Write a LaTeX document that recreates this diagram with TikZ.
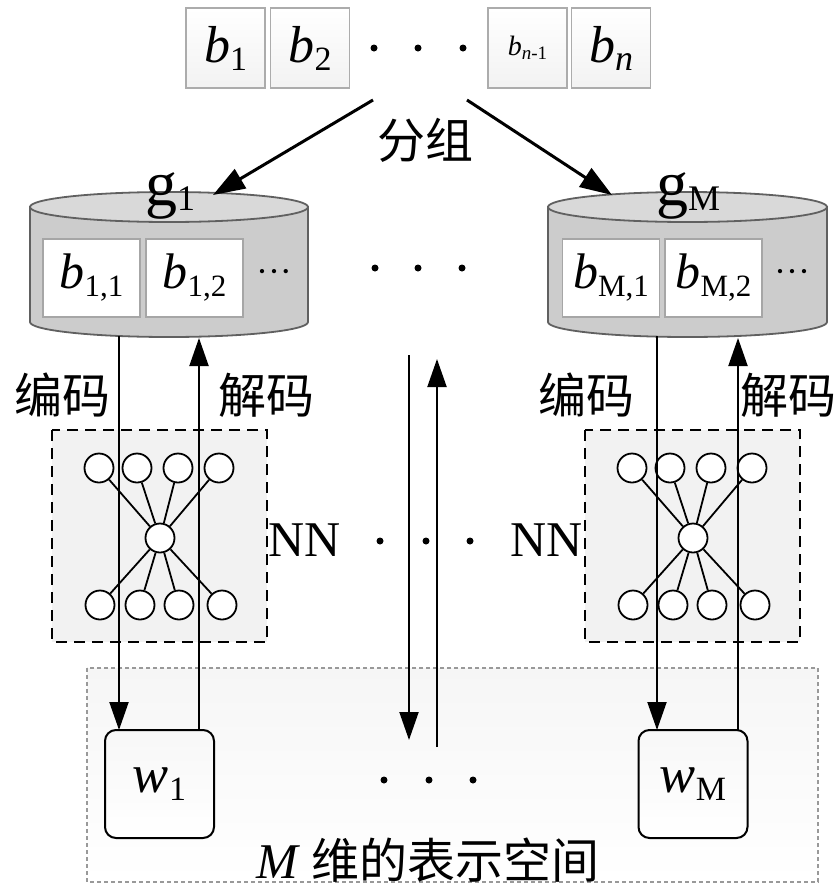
\documentclass[tikz,border=0pt]{standalone}
\usepackage{fontspec}
\setmainfont{Liberation Serif}
\newfontfamily\cjk{Noto Sans CJK SC}
\usetikzlibrary{arrows.meta}
\newcommand\fs[1]{\fontsize{#1}{#1}\selectfont}
% italic symbol with an upright index: {size}{symbol}{index size}{index}{drop}
\newcommand\idx[5]{{\fs{#1}\itshape #2\/}\raisebox{-#5pt}{\fs{#3}#4}}
\begin{document}
\begin{tikzpicture}[x=1pt,y=1pt,
  blk/.style={draw=gray!65,line width=1.6pt,top color=white,bottom color=gray!10,
    minimum width=79pt,minimum height=80pt,inner sep=0pt},
  inblk/.style={draw=gray!70,line width=1.6pt,fill=white,
    minimum width=97pt,minimum height=78pt,inner sep=0pt},
  cylbody/.style={draw=gray!75!black,line width=1.8pt,fill=gray!40},
  cyltop/.style={draw=gray!75!black,line width=1.8pt,fill=gray!30},
  nnbox/.style={draw=black,line width=1.8pt,dash pattern=on 11pt off 7pt,fill=gray!10},
  neuron/.style={circle,draw=black,line width=1.8pt,fill=white,minimum size=29pt,inner sep=0pt},
  wbox/.style={draw=black,line width=2pt,rounded corners=11pt,top color=gray!6,bottom color=white,
    minimum width=109pt,minimum height=108pt,inner sep=0pt},
  space/.style={draw=gray!80,line width=1.6pt,dash pattern=on 4pt off 3pt,top color=gray!7,bottom color=white},
  dot/.style={circle,fill=black,minimum size=7pt,inner sep=0pt},
  arr/.style={line width=2pt,-{Triangle[length=28pt,width=19pt]}},
  bigarr/.style={line width=3pt,-{Triangle[length=32pt,width=22pt]}},
  zh/.style={font=\cjk\fs{48}},
  lbl/.style={inner sep=0pt}
]
\useasboundingbox (0,0) rectangle (840,-892);

% ---------- input blocks ----------
\node[blk] (b1) at (225.5,-48) {\idx{52}{b}{34}{1}{8}};
\node[blk] (b2) at (310,-48) {\idx{52}{b}{34}{2}{8}};
\node[dot] (td1) at (374,-48) {};
\node[dot] (td2) at (418,-48) {};
\node[dot] (td3) at (463,-48) {};
\node[blk] (bn1) at (527.5,-48) {\idx{28}{b}{19}{\textit{n}-1}{4}};
\node[blk] (bn) at (611,-48) {{\fs{52}\itshape b\/}\raisebox{-8pt}{\fs{36}\itshape n}};

\coordinate (gl) at (373,-100);
\coordinate (gr) at (467,-100);
\node[zh,lbl] (group) at (425,-140) {分组};

% ---------- group cylinders ----------
\draw[cylbody] (30,-207) -- (30,-322) arc[start angle=180,end angle=360,x radius=139,y radius=15] -- (308,-207) -- cycle;
\draw[cyltop] (169,-207) ellipse[x radius=139,y radius=15];
\draw[cylbody] (548,-207) -- (548,-322) arc[start angle=180,end angle=360,x radius=139.5,y radius=15] -- (827,-207) -- cycle;
\draw[cyltop] (687.5,-207) ellipse[x radius=139.5,y radius=15];

\coordinate (g1in) at (213,-195);
\coordinate (gMin) at (612,-195);
\node[lbl,anchor=base] (g1) at (170,-205) {{\fs{64}g}\raisebox{-5pt}{\fs{36}1}};
\node[lbl,anchor=base] (gM) at (688,-205) {{\fs{64}g}\raisebox{-5pt}{\fs{36}M}};

\draw[bigarr] (gl) -- (g1in);
\draw[bigarr] (gr) -- (gMin);

\node[inblk] (b11) at (91.5,-278) {\idx{50}{b}{31}{1,1}{8}};
\node[inblk] (b12) at (194.5,-278) {\idx{50}{b}{31}{1,2}{8}};
\node[lbl] (e1) at (274,-276) {\fs{36}···};
\node[inblk] (bM1) at (611,-278) {\idx{50}{b}{31}{M,1}{8}};
\node[inblk] (bM2) at (713.5,-278) {\idx{50}{b}{31}{M,2}{8}};
\node[lbl] (e2) at (792,-276) {\fs{36}···};

\node[dot] (md1) at (375,-268) {};
\node[dot] (md2) at (418,-268) {};
\node[dot] (md3) at (462,-268) {};

% ---------- representation space ----------
\draw[space] (87,-668) rectangle (818,-882);
\node[wbox] (w1) at (159.5,-784) {\idx{54}{w}{34}{1}{8}};
\node[wbox] (wM) at (693,-784) {\idx{54}{w}{34}{M}{8}};
\node[dot] (bd1) at (384,-780) {};
\node[dot] (bd2) at (429,-780) {};
\node[dot] (bd3) at (473,-780) {};
\node[lbl] (spacelbl) at (428,-860) {{\fs{50}\itshape M\/}\hspace{12pt}{\cjk\fs{48}维的表示空间}};

% ---------- encoder/decoder networks ----------
\draw[nnbox] (52,-430) rectangle (267,-642);
\draw[nnbox] (585,-430) rectangle (800,-642);

\foreach \s/\p in {0/L,533/R}{
  \node[neuron] (c\p) at (160+\s,-538) {};
  \node[neuron] (t1\p) at (99+\s,-468) {};
  \node[neuron] (t2\p) at (137+\s,-468) {};
  \node[neuron] (t3\p) at (178+\s,-468) {};
  \node[neuron] (t4\p) at (219+\s,-468) {};
  \node[neuron] (u1\p) at (100+\s,-605) {};
  \node[neuron] (u2\p) at (140+\s,-605) {};
  \node[neuron] (u3\p) at (179+\s,-605) {};
  \node[neuron] (u4\p) at (222+\s,-605) {};
  \foreach \n in {t1,t2,t3,t4,u1,u2,u3,u4}
    \draw[line width=1.8pt] (c\p) -- (\n\p);
}

\node[lbl] (nnL) at (305,-540) {\fs{50}NN};
\node[lbl] (nnR) at (547,-540) {\fs{50}NN};
\node[dot] (nd1) at (380,-541) {};
\node[dot] (nd2) at (426,-541) {};
\node[dot] (nd3) at (470,-541) {};

\node[zh,lbl] (enc1) at (62,-395) {编码};
\node[zh,lbl] (dec1) at (266,-395) {解码};
\node[zh,lbl] (enc2) at (586,-395) {编码};
\node[zh,lbl] (dec2) at (788,-395) {解码};

% ---------- encode / decode connectors ----------
\coordinate (e1s) at (119,-336);
\coordinate (e1t) at (119,-730);
\coordinate (d1s) at (199,-730);
\coordinate (d1t) at (199,-338);
\coordinate (e2s) at (657,-336);
\coordinate (e2t) at (657,-730);
\coordinate (d2s) at (738,-730);
\coordinate (d2t) at (738,-338);
\coordinate (mes) at (409,-355);
\coordinate (met) at (409,-740);
\coordinate (mds) at (437,-747);
\coordinate (mdt) at (437,-359);

\draw[arr] (e1s) -- (e1t);
\draw[arr] (d1s) -- (d1t);
\draw[arr] (e2s) -- (e2t);
\draw[arr] (d2s) -- (d2t);
\draw[arr] (mes) -- (met);
\draw[arr] (mds) -- (mdt);
\end{tikzpicture}
\end{document}
